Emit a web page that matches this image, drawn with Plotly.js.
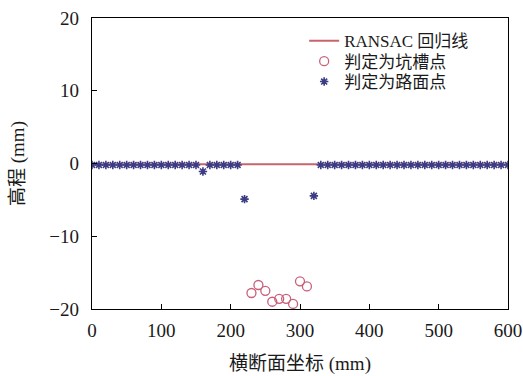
<!DOCTYPE html>
<html><head><meta charset="utf-8">
<script src="https://cdn.plot.ly/plotly-3.0.1.min.js"></script>
<style>html,body{margin:0;padding:0;background:#fff}</style>
</head><body><div id="c" style="width:523px;height:376px"></div>
<script>
const ransacX = [0, 600];
const ransacY = [-0.1, -0.1];
const potholeX = [230, 240, 250, 260, 270, 280, 290, 300, 310];
const potholeY = [-17.8, -16.7, -17.5, -19.0, -18.6, -18.6, -19.3, -16.2, -16.9];
const roadX = [0,10,20,30,40,50,60,70,80,90,100,110,120,130,140,150,160,170,180,190,200,210,220,320,330,340,350,360,370,380,390,400,410,420,430,440,450,460,470,480,490,500,510,520,530,540,550,560,570,580,590,600];
const roadY = [-0.2,-0.2,-0.2,-0.2,-0.2,-0.2,-0.2,-0.2,-0.2,-0.2,-0.2,-0.2,-0.2,-0.2,-0.2,-0.2,-1.1,-0.2,-0.2,-0.2,-0.2,-0.2,-4.9,-4.45,-0.2,-0.2,-0.2,-0.2,-0.2,-0.2,-0.2,-0.2,-0.2,-0.2,-0.2,-0.2,-0.2,-0.2,-0.2,-0.2,-0.2,-0.2,-0.2,-0.2,-0.2,-0.2,-0.2,-0.2,-0.2,-0.2,-0.2,-0.2];
const names = ['RANSAC 回归线', '判定为坑槽点', '判定为路面点'];
const xTicks = [0,100,200,300,400,500,600];
const yTicks = [-20,-10,0,10,20];
const yTickText = ['−20','−10','0','10','20'];
const FONT = '"Liberation Serif", "Noto Sans CJK SC", serif';
const TXT = '#1a1a1a';

const traces = [
  {x: ransacX, y: ransacY, name: names[0], mode: 'lines', line: {color: '#c8646e', width: 2}, legend: 'legend'},
  {x: potholeX, y: potholeY, name: names[1], mode: 'markers', marker: {symbol: 'circle-open', size: 9, color: '#c8607a', line: {width: 1.3}}, legend: 'legend2'},
  {x: roadX, y: roadY, name: names[2], mode: 'markers', marker: {symbol: 'asterisk-open', size: 7, color: '#3c3c84', line: {width: 1.6, color: '#3c3c84'}}, legend: 'legend3'}
];
const axisCommon = {showline: true, linecolor: '#000', linewidth: 1.2, mirror: true, ticks: 'inside', ticklen: 5, tickcolor: '#000', showgrid: false, zeroline: false, tickfont: {family: FONT, size: 19, color: TXT}};
const leg = (y) => ({x: 0.51, y: y, xanchor: 'left', yanchor: 'middle', bgcolor: 'rgba(0,0,0,0)', font: {family: FONT, size: 17, color: TXT}, itemwidth: 30});
const layout = {
  width: 523, height: 376,
  margin: {l: 92, r: 15, t: 18, b: 67},
  paper_bgcolor: '#fff', plot_bgcolor: '#fff',
  font: {family: FONT, size: 19, color: TXT},
  showlegend: true,
  legend: leg(0.92), legend2: leg(0.85), legend3: leg(0.78),
  xaxis: Object.assign({}, axisCommon, {range: [0, 600], tickvals: xTicks, ticklabelstandoff: 4, title: {text: '横断面坐标 (mm)', font: {family: FONT, size: 19, color: TXT}, standoff: 16}}),
  yaxis: Object.assign({}, axisCommon, {range: [-20, 20], tickvals: yTicks, ticktext: yTickText, ticklabelstandoff: 8, title: {text: '高程 (mm)', font: {family: FONT, size: 19, color: TXT}, standoff: 19}})
};
Plotly.newPlot('c', traces, layout, {displayModeBar: false, staticPlot: true});
</script></body></html>
